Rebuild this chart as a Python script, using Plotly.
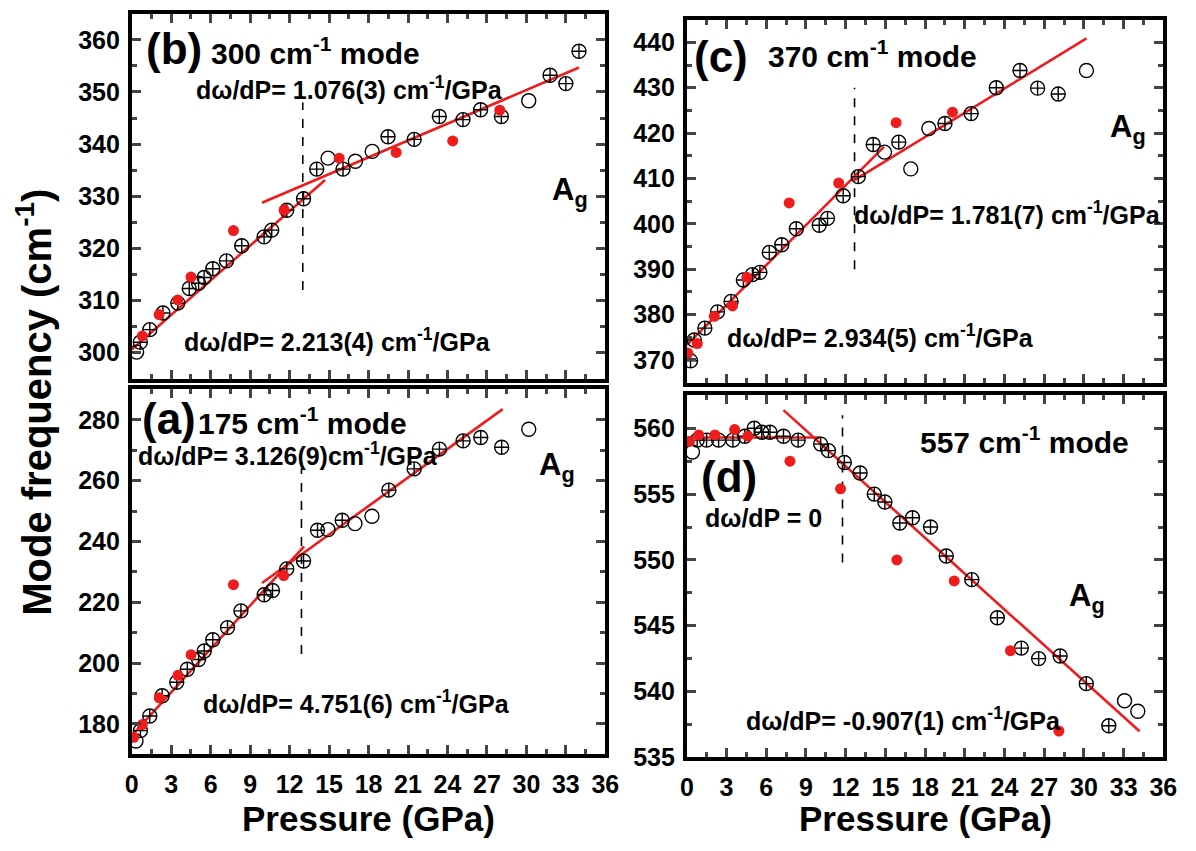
import plotly.graph_objects as go

# ---------------- data: (b) 300 cm-1 mode ----------------
b_p_cross = [0.65, 1.37, 2.37, 3.5, 4.37, 5.08, 5.5, 6.16, 7.2, 8.36, 10.06, 10.64, 11.78, 13.06,
             14.06, 16.06, 19.48, 21.47, 23.38, 25.18, 26.52, 28.1, 31.8, 33.0, 34.0]
b_w_cross = [302.0, 304.4, 307.6, 309.5, 312.3, 313.3, 314.4, 316.1, 317.6, 320.5, 322.2, 323.5, 327.3, 329.5,
             335.2, 335.2, 341.4, 340.9, 345.3, 344.7, 346.6, 345.3, 353.2, 351.6, 357.8]
b_p_open = [0.37, 14.92, 17.0, 18.28, 30.18]
b_w_open = [300.1, 337.3, 336.7, 338.6, 348.3]
b_p_red = [0.8, 2.08, 3.5, 4.5, 7.73, 11.58, 15.77, 20.1, 24.4, 27.98]
b_w_red = [303.2, 307.3, 310.1, 314.5, 323.4, 327.4, 337.3, 338.4, 340.6, 346.5]
b_fit_slope = [2.213, 1.076]
b_fit_icpt = [300.6, 318.1]
b_fit_pmin = [0.0, 9.9]
b_fit_pmax = [14.7, 34.0]
b_trans_p = 13.0
b_trans_w = [312.0, 348.0]

# ---------------- data: (c) 370 cm-1 mode ----------------
c_p_cross = [0.28, 0.56, 1.36, 2.32, 3.34, 4.27, 4.95, 5.52, 6.23, 7.17, 8.27, 10.0, 10.63, 11.81,
             12.95, 14.08, 16.01, 19.5, 21.48, 23.38, 25.17, 26.5, 28.06]
c_w_cross = [369.8, 374.4, 377.0, 380.6, 382.9, 387.6, 388.8, 389.3, 393.7, 395.4, 398.9, 399.7, 401.2, 406.2,
             410.4, 417.5, 418.0, 422.1, 424.3, 430.0, 433.8, 429.9, 428.6]
c_p_open = [14.93, 16.92, 18.28, 30.19]
c_w_open = [415.8, 412.1, 421.0, 433.8]
c_p_red = [0.07, 0.79, 2.07, 3.45, 4.53, 7.73, 11.47, 15.81, 20.07]
c_w_red = [371.5, 373.6, 379.6, 381.9, 388.2, 404.6, 409.0, 422.3, 424.6]
c_fit_slope = [2.934, 1.781]
c_fit_icpt = [373.3, 387.1]
c_fit_pmin = [0.0, 12.6]
c_fit_pmax = [14.9, 30.2]
c_trans_p = 12.67
c_trans_w = [390.0, 430.0]

# ---------------- data: (a) 175 cm-1 mode ----------------
a_p_cross = [0.66, 1.37, 2.31, 3.42, 4.22, 5.08, 5.51, 6.16, 7.28, 8.3, 10.07, 10.7, 11.78, 13.06,
             14.12, 16.0, 19.54, 21.47, 23.39, 25.19, 26.53, 28.12]
a_w_cross = [177.8, 182.6, 189.3, 193.7, 198.0, 201.2, 204.0, 207.7, 211.7, 217.2, 222.5, 223.9, 231.0, 233.6,
             243.7, 247.0, 256.9, 263.9, 270.4, 273.1, 274.2, 271.0]
a_p_open = [0.32, 14.92, 16.97, 18.26, 30.18]
a_w_open = [174.4, 243.9, 245.9, 248.3, 276.9]
a_p_red = [0.15, 0.8, 2.09, 3.51, 4.51, 7.73, 11.55]
a_w_red = [175.6, 179.8, 188.6, 196.0, 202.8, 225.8, 228.8]
a_fit_slope = [4.751, 3.126]
a_fit_icpt = [176.2, 195.4]
a_fit_pmin = [0.0, 9.9]
a_fit_pmax = [13.1, 28.2]
a_trans_p = 12.9
a_trans_w = [203.0, 264.0]

# ---------------- data: (d) 557 cm-1 mode ----------------
d_p_cross = [0.78, 1.49, 2.4, 3.48, 4.38, 5.09, 5.66, 6.28, 7.3, 8.41, 10.11, 10.7, 11.9, 13.09,
             14.16, 14.96, 16.09, 17.05, 18.41, 19.6, 21.53, 23.46, 25.27, 26.58, 28.2, 30.18, 31.88]
d_w_cross = [559.1, 559.1, 559.1, 559.1, 559.4, 560.0, 559.7, 559.7, 559.4, 559.1, 558.8, 558.3, 557.4, 556.6,
             555.0, 554.4, 552.8, 553.2, 552.5, 550.3, 548.5, 545.6, 543.3, 542.5, 542.7, 540.6, 537.4]
d_p_open = [0.42, 33.07, 34.07]
d_w_open = [558.2, 539.3, 538.5]
d_p_red = [0.19, 0.9, 2.12, 3.61, 4.61, 7.79, 11.61, 15.87, 20.2, 24.45, 28.11]
d_w_red = [559.0, 559.5, 559.5, 559.9, 559.4, 557.5, 555.4, 550.0, 548.4, 543.1, 537.0]
d_fit_slope = [0.0, -0.907]
d_fit_icpt = [559.3, 568.0]
d_fit_pmin = [0.1, 7.3]
d_fit_pmax = [10.1, 34.2]
d_trans_p = 11.76
d_trans_w = [549.8, 561.0]

x_ticks = [0, 3, 6, 9, 12, 15, 18, 21, 24, 27, 30, 33, 36]

FONT = "Liberation Sans, Arial, sans-serif"
RED = "#ee1c1c"

fig = go.Figure()

panels = [
    ("b", "", b_p_cross, b_w_cross, b_p_open, b_w_open, b_p_red, b_w_red,
     b_fit_slope, b_fit_icpt, b_fit_pmin, b_fit_pmax, b_trans_p, b_trans_w),
    ("c", "2", c_p_cross, c_w_cross, c_p_open, c_w_open, c_p_red, c_w_red,
     c_fit_slope, c_fit_icpt, c_fit_pmin, c_fit_pmax, c_trans_p, c_trans_w),
    ("a", "3", a_p_cross, a_w_cross, a_p_open, a_w_open, a_p_red, a_w_red,
     a_fit_slope, a_fit_icpt, a_fit_pmin, a_fit_pmax, a_trans_p, a_trans_w),
    ("d", "4", d_p_cross, d_w_cross, d_p_open, d_w_open, d_p_red, d_w_red,
     d_fit_slope, d_fit_icpt, d_fit_pmin, d_fit_pmax, d_trans_p, d_trans_w),
]

for (name, s, pc, wc, po, wo, pr, wr, slope, icpt, pmin, pmax, tp, tw) in panels:
    xa, ya = "x" + s, "y" + s
    # transition pressure (dashed vertical)
    fig.add_trace(go.Scatter(x=[tp, tp], y=tw, mode="lines", xaxis=xa, yaxis=ya,
                             line=dict(color="black", width=1.6, dash="dash"), showlegend=False))
    # linear fits drawn from the stated slopes
    for k in range(len(slope)):
        xs = [pmin[k], pmax[k]]
        ys = [icpt[k] + slope[k] * v for v in xs]
        fig.add_trace(go.Scatter(x=xs, y=ys, mode="lines", xaxis=xa, yaxis=ya,
                                 line=dict(color=RED, width=2.6), showlegend=False))
    fig.add_trace(go.Scatter(x=pc, y=wc, mode="markers", xaxis=xa, yaxis=ya,
                             marker=dict(symbol="circle-cross-open", size=14, color="black",
                                         line=dict(width=1.4, color="black")), showlegend=False))
    fig.add_trace(go.Scatter(x=po, y=wo, mode="markers", xaxis=xa, yaxis=ya,
                             marker=dict(symbol="circle-open", size=14, color="black",
                                         line=dict(width=1.4, color="black")), showlegend=False))
    fig.add_trace(go.Scatter(x=pr, y=wr, mode="markers", xaxis=xa, yaxis=ya,
                             marker=dict(symbol="circle", size=11, color=RED), showlegend=False))


def xaxis(domain, anchor, labels):
    return dict(domain=domain, anchor=anchor, range=[0, 36], tickvals=x_ticks,
                showticklabels=labels, ticks="inside", ticklen=9, tickwidth=3,
                ticklabelstandoff=5,
                minor=dict(ticks="inside", ticklen=5, tickwidth=2.5, dtick=1.5, tick0=0),
                showline=True, linewidth=3.8, linecolor="black", mirror="ticks",
                showgrid=False, zeroline=False,
                tickfont=dict(family=FONT, size=25, color="black", weight="bold"))


def yaxis(domain, anchor, rng, dtick):
    return dict(domain=domain, anchor=anchor, range=rng, dtick=dtick, tick0=0,
                ticks="inside", ticklen=9, tickwidth=3, ticklabelstandoff=3,
                minor=dict(ticks="inside", ticklen=5, tickwidth=2.5, dtick=dtick / 2, tick0=0),
                showline=True, linewidth=3.8, linecolor="black", mirror="ticks",
                showgrid=False, zeroline=False,
                tickfont=dict(family=FONT, size=25, color="black", weight="bold"))


W, H = 1196, 851
L_col = [127 / W, 609 / W]
R_col = [692 / W, 1177 / W]
top_L = [1 - 385 / H, 1 - 14 / H]
bot_L = [1 - 767 / H, 1 - 396 / H]
top_R = [1 - 389 / H, 1 - 20 / H]
bot_R = [1 - 770 / H, 1 - 402 / H]

fig.update_layout(
    width=W, height=H, margin=dict(l=0, r=0, t=0, b=0),
    paper_bgcolor="white", plot_bgcolor="white",
    xaxis=xaxis(L_col, "y", False), yaxis=yaxis(top_L, "x", [295, 365], 10),
    xaxis2=xaxis(R_col, "y2", False), yaxis2=yaxis(top_R, "x2", [365, 445], 10),
    xaxis3=xaxis(L_col, "y3", True), yaxis3=yaxis(bot_L, "x3", [170, 290], 20),
    xaxis4=xaxis(R_col, "y4", True), yaxis4=yaxis(bot_R, "x4", [535, 562.5], 5),
)

ann = []


def note(s, x, y, text, size, anchor="left"):
    ann.append(dict(xref="x" + s, yref="y" + s, x=x, y=y, text=text, showarrow=False,
                    xanchor=anchor, yanchor="middle",
                    font=dict(family=FONT, size=size, color="black", weight="bold")))


# panel (b)
note("", 0.9, 358.3, "(b)", 44)
note("", 5.9, 357.8, "300 cm<sup>-1</sup> mode", 30)
note("", 4.7, 350.7, "dω/dP= 1.076(3) cm<sup>-1</sup>/GPa", 25)
note("", 3.8, 302.5, "dω/dP= 2.213(4) cm<sup>-1</sup>/GPa", 25)
note("", 31.8, 330.8, "A<sub>g</sub>", 31)
# panel (c)
note("2", 0.4, 436.8, "(c)", 44)
note("2", 6.0, 437.4, "370 cm<sup>-1</sup> mode", 30)
note("2", 12.5, 402.4, "dω/dP= 1.781(7) cm<sup>-1</sup>/GPa", 25)
note("2", 2.9, 375.2, "dω/dP= 2.934(5) cm<sup>-1</sup>/GPa", 25)
note("2", 31.8, 420.8, "A<sub>g</sub>", 31)
# panel (a)
note("3", 0.6, 280.3, "(a)", 44)
note("3", 4.9, 279.6, "175 cm<sup>-1</sup> mode", 30)
note("3", 0.3, 268.9, "dω/dP= 3.126(9)cm<sup>-1</sup>/GPa", 25)
note("3", 5.3, 187.2, "dω/dP= 4.751(6) cm<sup>-1</sup>/GPa", 25)
note("3", 30.8, 264.4, "A<sub>g</sub>", 31)
# panel (d)
note("4", 17.5, 559.1, "557 cm<sup>-1</sup> mode", 30)
note("4", 0.9, 556.3, "(d)", 44)
note("4", 1.2, 553.2, "dω/dP = 0", 25)
note("4", 4.3, 537.9, "dω/dP= -0.907(1) cm<sup>-1</sup>/GPa", 25)
note("4", 28.7, 547.1, "A<sub>g</sub>", 31)

# shared axis titles
for xc in [(L_col[0] + L_col[1]) / 2, (R_col[0] + R_col[1]) / 2]:
    ann.append(dict(xref="paper", yref="paper", x=xc, y=1 - 832 / H, text="Pressure (GPa)",
                    showarrow=False, xanchor="center", yanchor="middle",
                    font=dict(family=FONT, size=35, color="black", weight="bold")))
ann.append(dict(xref="paper", yref="paper", x=28 / W, y=1 - 409 / H,
                text="Mode frequency (cm<sup>-1</sup>)", textangle=-90,
                showarrow=False, xanchor="center", yanchor="middle",
                font=dict(family=FONT, size=40, color="black", weight="bold")))

fig.update_layout(annotations=ann)
fig.write_html("out.html")
